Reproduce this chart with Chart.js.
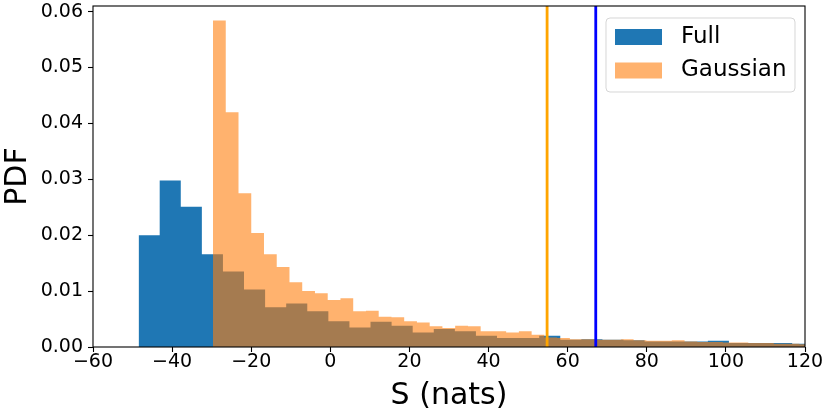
<!DOCTYPE html>
<html>
<head>
<meta charset="utf-8">
<script src="https://cdn.jsdelivr.net/npm/chart.js@4.4.1/dist/chart.umd.min.js"></script>
<style>
  html, body { margin: 0; padding: 0; background: #fff; }
</style>
</head>
<body>
<canvas id="chart" width="830" height="415"></canvas>
<script>
// Histogram densities (matplotlib hist, density=True)
const fullStart = -48.47;   // left edge of first bin
const fullWidth = 5.33;     // bin width
const fullDensity = [0.0200, 0.0298, 0.0251, 0.0166, 0.0135, 0.0103, 0.0071, 0.0078,
  0.0064, 0.0046, 0.0035, 0.0045, 0.0038, 0.0026, 0.0032, 0.0028, 0.0020, 0.0016,
  0.0016, 0.0020, 0.0013, 0.0014, 0.0013, 0.0012, 0.0010, 0.0010, 0.0010, 0.0011,
  0.0007, 0.0007, 0.0007, 0.0006];

const gaussStart = -29.66;
const gaussWidth = 3.222;
const gaussDensity = [0.0584, 0.0420, 0.0275, 0.0204, 0.0166, 0.0143, 0.0116, 0.0100,
  0.0096, 0.0084, 0.0087, 0.0064, 0.0065, 0.0054, 0.0053, 0.0046, 0.0044, 0.0037,
  0.0034, 0.0038, 0.0037, 0.0028, 0.0028, 0.0026, 0.0028, 0.0022, 0.0017, 0.0016,
  0.0014, 0.0014, 0.0013, 0.0013, 0.0014, 0.0012, 0.0011, 0.0011, 0.0012, 0.0010,
  0.0009, 0.0009, 0.0008, 0.0008, 0.0007, 0.0007, 0.0006, 0.0006, 0.0005];

// vertical marker lines
const fullMark = 67.1;
const gaussMark = 54.8;

const xTicks = [-60, -40, -20, 0, 20, 40, 60, 80, 100, 120];
const yTicks = [0, 0.01, 0.02, 0.03, 0.04, 0.05, 0.06];
const yMax = 0.061;

const FONT = 'DejaVu Sans';

// turn bins into step points: value holds from its left edge to the next edge
function steps(start, width, dens) {
  const pts = dens.map((d, i) => ({ x: start + i * width, y: d }));
  pts.push({ x: start + dens.length * width, y: 0 });
  return pts;
}

function vline(x) {
  return [{ x: x, y: 0 }, { x: x, y: yMax }];
}

// matplotlib draws spines on top of the bars
const frame = {
  id: 'frame',
  afterDatasetsDraw(chart) {
    const { ctx, chartArea: a } = chart;
    ctx.save();
    ctx.strokeStyle = '#000';
    ctx.lineWidth = 1.1;
    ctx.strokeRect(a.left, a.top, a.right - a.left, a.bottom - a.top);
    ctx.restore();
  }
};

// legend box in the upper right corner, inside the axes
const boxLegend = {
  id: 'boxLegend',
  afterDraw(chart) {
    const { ctx, chartArea: a } = chart;
    const items = [
      { text: 'Full', color: '#1f77b4' },
      { text: 'Gaussian', color: 'rgba(255,127,14,0.6)' }
    ];
    const w = 189, h = 74;
    const x0 = a.right - 10 - w, y0 = a.top + 12;
    ctx.save();
    ctx.beginPath();
    if (ctx.roundRect) ctx.roundRect(x0, y0, w, h, 4); else ctx.rect(x0, y0, w, h);
    ctx.fillStyle = 'rgba(255,255,255,0.8)';
    ctx.fill();
    ctx.strokeStyle = 'rgba(204,204,204,0.8)';
    ctx.lineWidth = 1;
    ctx.stroke();
    ctx.font = '23px "' + FONT + '"';
    ctx.textBaseline = 'middle';
    ctx.textAlign = 'left';
    items.forEach((it, i) => {
      const cy = y0 + 19 + i * 33.5;
      ctx.fillStyle = it.color;
      ctx.fillRect(x0 + 9, cy - 8, 47, 16);
      ctx.fillStyle = '#000';
      ctx.fillText(it.text, x0 + 75, cy);
    });
    ctx.restore();
  }
};

const tickGrid = {
  drawOnChartArea: false,
  drawTicks: true,
  tickLength: 5,
  tickWidth: 1.1,
  tickColor: '#000'
};

new Chart(document.getElementById('chart'), {
  type: 'line',
  data: {
    datasets: [
      {
        label: 'Full',
        data: steps(fullStart, fullWidth, fullDensity),
        stepped: true,
        fill: 'origin',
        backgroundColor: '#1f77b4',
        borderColor: 'transparent',
        borderWidth: 0,
        pointRadius: 0,
        order: 2
      },
      {
        label: 'Gaussian',
        data: steps(gaussStart, gaussWidth, gaussDensity),
        stepped: true,
        fill: 'origin',
        backgroundColor: 'rgba(255,127,14,0.6)',
        borderColor: 'transparent',
        borderWidth: 0,
        pointRadius: 0,
        order: 1
      },
      {
        label: 'gauss mark',
        data: vline(gaussMark),
        borderColor: '#ffa500',
        borderWidth: 2.8,
        pointRadius: 0,
        fill: false,
        order: 0
      },
      {
        label: 'full mark',
        data: vline(fullMark),
        borderColor: '#0000ff',
        borderWidth: 2.8,
        pointRadius: 0,
        fill: false,
        order: 0
      }
    ]
  },
  options: {
    responsive: false,
    animation: false,
    layout: { padding: { top: 6, right: 25, left: 0, bottom: 0 } },
    plugins: {
      legend: { display: false },
      tooltip: { enabled: false }
    },
    scales: {
      x: {
        type: 'linear',
        min: -60,
        max: 120,
        grid: tickGrid,
        border: { display: false },
        afterBuildTicks: s => { s.ticks = xTicks.map(v => ({ value: v })); },
        afterFit: s => { s.height = 68; },
        ticks: {
          color: '#000',
          padding: 1,
          maxRotation: 0,
          font: { family: FONT, size: 19, lineHeight: 1 },
          callback: v => String(v).replace('-', '\u2212')
        },
        title: {
          display: true,
          text: 'S (nats)',
          color: '#000',
          font: { family: FONT, size: 30, lineHeight: 1 },
          padding: { top: 0, bottom: 4 }
        }
      },
      y: {
        type: 'linear',
        min: 0,
        max: yMax,
        grid: tickGrid,
        border: { display: false },
        afterBuildTicks: s => { s.ticks = yTicks.map(v => ({ value: v })); },
        afterFit: s => { s.width = 93; },
        ticks: {
          color: '#000',
          padding: 5,
          font: { family: FONT, size: 19, lineHeight: 0.1 },
          callback: v => Number(v).toFixed(2)
        },
        title: {
          display: true,
          text: 'PDF',
          color: '#000',
          font: { family: FONT, size: 30, lineHeight: 1 },
          padding: { top: 3, bottom: 0 }
        }
      }
    }
  },
  plugins: [frame, boxLegend]
});
</script>
</body>
</html>
